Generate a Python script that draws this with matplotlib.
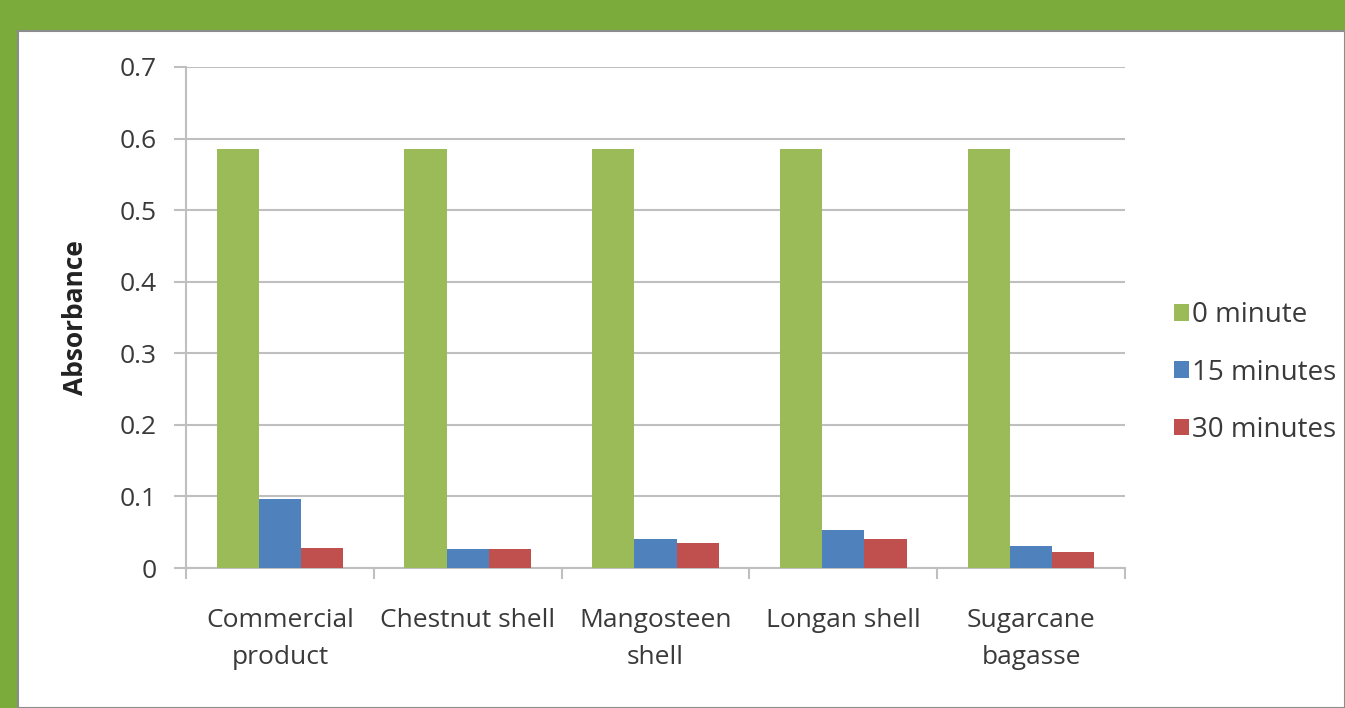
import matplotlib
matplotlib.use("Agg")
import matplotlib.pyplot as plt
import numpy as np
from matplotlib.patches import Rectangle

categories = ["Commercial\nproduct", "Chestnut shell", "Mangosteen\nshell", "Longan shell", "Sugarcane\nbagasse"]
series_names = ["0 minute", "15 minutes", "30 minutes"]
vals_0 = [0.586, 0.586, 0.586, 0.586, 0.586]
vals_15 = [0.096, 0.027, 0.040, 0.053, 0.031]
vals_30 = [0.028, 0.027, 0.035, 0.040, 0.022]
colors = ["#9bbb59", "#4f81bd", "#c0504d"]
yticks = [0, 0.1, 0.2, 0.3, 0.4, 0.5, 0.6, 0.7]

plt.rcParams['font.family'] = ['Open Sans', 'DejaVu Sans']

fig = plt.figure(figsize=(13.45, 7.08), dpi=100)
fig.patch.set_facecolor("#7aab3b")
panel = Rectangle((18/1345, 0), 1 - 18/1345, (708-31)/708, transform=fig.transFigure,
                  facecolor="white", edgecolor="#8c8c8c", linewidth=1.5, zorder=-10)
fig.patches.append(panel)

ax = fig.add_axes([186/1345, 1-568/708, (1125-186)/1345, (568-67)/708])
ax.set_facecolor("none")
x = np.arange(len(categories))
w = 0.225
for i, (vals, c, n) in enumerate(zip([vals_0, vals_15, vals_30], colors, series_names)):
    ax.bar(x + (i-1)*w, vals, width=w, color=c, label=n, zorder=3)

ax.set_xlim(-0.5, len(categories)-0.5)
ax.set_ylim(0, 0.7)
ax.set_yticks(yticks)
ax.set_yticklabels([("0" if v == 0 else f"{v:.1f}") for v in yticks])
ax.yaxis.grid(True, color="#bfbfbf", linewidth=1.5, zorder=0)
ax.set_axisbelow(True)
for s in ["top", "right"]:
    ax.spines[s].set_visible(False)
for s in ["left", "bottom"]:
    ax.spines[s].set_color("#bfbfbf")
    ax.spines[s].set_linewidth(1.5)
ax.tick_params(axis="y", length=9, width=1.5, color="#bfbfbf", labelsize=19, labelcolor="#3a3a3a", pad=12)
ax.set_xticks(x)
ax.set_xticklabels(categories, fontsize=19, color="#3a3a3a", linespacing=1.6)
ax.tick_params(axis="x", length=0, pad=29)
ax.set_xticks(np.arange(-0.5, len(categories)), minor=True)
ax.tick_params(axis="x", which="minor", length=8, width=1.5, color="#bfbfbf")
ax.set_ylabel("Absorbance", fontsize=19, fontweight="bold", color="#222222", labelpad=22)

leg = ax.legend(loc="center left", bbox_to_anchor=(1.04, 0.39), frameon=False, fontsize=20,
                handlelength=0.55, handleheight=0.55, handletextpad=0.12, labelspacing=1.05,
                borderaxespad=0)
for t in leg.get_texts():
    t.set_color("#3a3a3a")

fig.savefig("out.png", dpi=100, facecolor=fig.get_facecolor())
